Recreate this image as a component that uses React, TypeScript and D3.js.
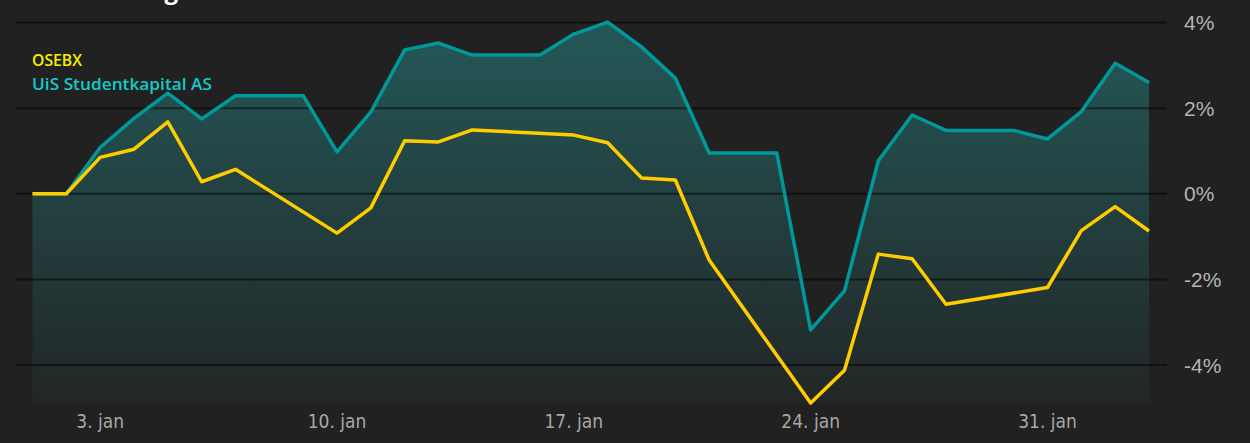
import React, { useEffect } from "react";
import * as d3 from "d3";

const dates: string[] = [
  "2022-01-01","2022-01-02","2022-01-03","2022-01-04","2022-01-05","2022-01-06","2022-01-07",
  "2022-01-08","2022-01-09","2022-01-10","2022-01-11","2022-01-12","2022-01-13","2022-01-14",
  "2022-01-15","2022-01-16","2022-01-17","2022-01-18","2022-01-19","2022-01-20","2022-01-21",
  "2022-01-22","2022-01-23","2022-01-24","2022-01-25","2022-01-26","2022-01-27","2022-01-28",
  "2022-01-29","2022-01-30","2022-01-31","2022-02-01","2022-02-02","2022-02-03",
];

const studentkapital: number[] = [
  0, 0, 1.08, 1.76, 2.35, 1.75, 2.29, 2.29, 2.29, 0.98, 1.91, 3.36, 3.52, 3.24, 3.24, 3.24,
  3.73, 4.01, 3.43, 2.7, 0.95, 0.95, 0.95, -3.18, -2.27, 0.77, 1.84, 1.48, 1.48, 1.48, 1.28,
  1.92, 3.05, 2.6,
];

const osebx: (number | null)[] = [
  0, 0, 0.85, 1.04, 1.68, 0.28, 0.57, null, null, -0.92, -0.33, 1.24, 1.21, 1.49, null, null,
  1.37, 1.19, 0.37, 0.32, -1.55, null, null, -4.89, -4.12, -1.41, -1.52, -2.58, null, null,
  -2.19, -0.86, -0.3, -0.87,
];

const yTicks: number[] = [4, 2, 0, -2, -4];
const seriesNames: string[] = ["OSEBX", "UiS Studentkapital AS"];

const W = 1250;
const H = 443;

export default function App() {
  useEffect(() => {
    document.body.style.margin = "0";
    document.body.style.background = "#212121";
  }, []);

  const parse = d3.timeParse("%Y-%m-%d");
  const dts = dates.map((d) => parse(d) as Date);

  const x = d3.scaleTime().domain([dts[0], dts[dts.length - 1]]).range([32.5, 1149]);
  const y = d3.scaleLinear().domain([-4, 4]).range([365, 22.5]);
  const plotBottom = 403;

  const tealPts = dts.map((d, i) => ({ d, v: studentkapital[i] }));
  const osePts = dts
    .map((d, i) => ({ d, v: osebx[i] }))
    .filter((p) => p.v !== null) as { d: Date; v: number }[];

  const line = d3
    .line<{ d: Date; v: number }>()
    .x((p) => x(p.d))
    .y((p) => y(p.v));
  const area = d3
    .area<{ d: Date; v: number }>()
    .x((p) => x(p.d))
    .y0(plotBottom)
    .y1((p) => y(p.v));

  const xTicks = d3.timeMonday.range(dts[0], d3.timeDay.offset(dts[dts.length - 1], 1));
  const fmtX = (d: Date) => `${d.getDate()}. jan`;

  return (
    <svg width={W} height={H} style={{ display: "block" }}>
      <defs>
        <linearGradient id="fillGrad" gradientUnits="userSpaceOnUse" x1="0" y1="20" x2="0" y2={plotBottom}>
          <stop offset="0%" stopColor="#245858" />
          <stop offset="100%" stopColor="#222626" />
        </linearGradient>
      </defs>
      <rect x={0} y={0} width={W} height={H} fill="#212121" />
      <text
        x={178}
        y={-1}
        textAnchor="end"
        fill="#ffffff"
        fontFamily="'Open Sans', sans-serif"
        fontWeight={700}
        fontSize={24}
      >
        Avkastning
      </text>

      <path d={area(tealPts) || ""} fill="url(#fillGrad)" />

      {yTicks.map((t) => (
        <g key={t}>
          <line x1={16} x2={1167} y1={y(t)} y2={y(t)} stroke="rgba(0,0,0,0.5)" strokeWidth={2} />
          <text
            x={1184}
            y={y(t)}
            dy="0.36em"
            fill="#b4b4b4"
            fontFamily="'Liberation Sans', Arial, sans-serif"
            fontSize={21}
          >
            {`${t}%`}
          </text>
        </g>
      ))}

      <path d={line(tealPts) || ""} fill="none" stroke="#00999b" strokeWidth={3.5} strokeLinejoin="round" />
      <path d={line(osePts) || ""} fill="none" stroke="#ffcc00" strokeWidth={3.5} strokeLinejoin="round" />

      {xTicks.map((t) => (
        <text
          key={t.toISOString()}
          x={x(t)}
          y={428}
          textAnchor="middle"
          fill="#a8a8a8"
          fontFamily="'Liberation Sans Narrow', 'DejaVu Sans Condensed', sans-serif"
          fontSize={19}
        >
          {fmtX(t)}
        </text>
      ))}

      <text
        x={32}
        y={66}
        fill="#f5f000"
        fontFamily="'Open Sans', sans-serif"
        fontWeight={600}
        fontSize={17}
        textLength={50}
        lengthAdjust="spacingAndGlyphs"
      >
        {seriesNames[0]}
      </text>
      <text
        x={32}
        y={90}
        fill="#12cbc8"
        fontFamily="'Open Sans', sans-serif"
        fontWeight={600}
        fontSize={17}
        textLength={180}
        lengthAdjust="spacingAndGlyphs"
      >
        {seriesNames[1]}
      </text>
    </svg>
  );
}
